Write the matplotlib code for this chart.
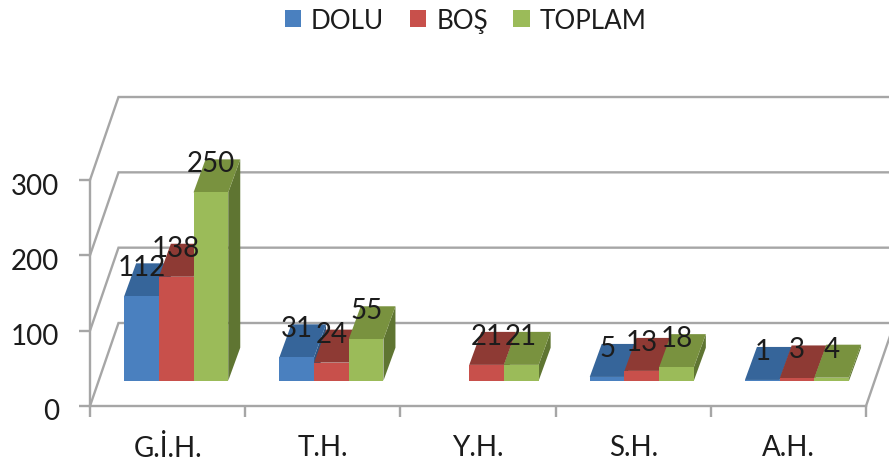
import matplotlib
matplotlib.use("Agg")
import matplotlib.pyplot as plt
from matplotlib.patches import Polygon, Patch
from matplotlib.transforms import ScaledTranslation

categories = ["G.İ.H.", "T.H.", "Y.H.", "S.H.", "A.H."]
dolu = [112, 31, None, 5, 1]
bos = [138, 24, 21, 13, 3]
toplam = [250, 55, 21, 18, 4]
series_names = ["DOLU", "BOŞ", "TOPLAM"]
y_ticks = [0, 100, 200, 300]

FRONT = ["#4a80bf", "#c8504b", "#9bbb59"]
TOP = ["#36659a", "#8e3a34", "#79923f"]
SIDE = ["#2c5480", "#76302b", "#5f7532"]
GRID = "#a6a6a6"
TXT = "#1c1c1c"
FS = 20

W, H = 889, 464
CAT_PX = 155.2      # px per category
VAL_PX = 0.7533     # px per value unit
X0, Y0 = 90, 407    # pixel of origin

fig = plt.figure(figsize=(W / 100, H / 100), dpi=100)
plt.rcParams["font.family"] = ["Lato", "DejaVu Sans"]
ax = fig.add_axes([0, 0, 1, 1])
ax.set_xlim(-X0 / CAT_PX, (W - X0) / CAT_PX)
ax.set_ylim((Y0 - H) / VAL_PX, Y0 / VAL_PX)
ax.patch.set_visible(False)

# depth of the wall and of the bars, in data units
wall_dx, wall_dy = 28.5 / CAT_PX, 83 / VAL_PX
bar_dx, bar_dy = 12 / CAT_PX, 33 / VAL_PX
base_dx, base_dy = 8.6 / CAT_PX, 25.3 / VAL_PX
bar_w = 34.7 / CAT_PX

# walls and gridlines
for v in y_ticks:
    ax.plot([0, wall_dx, 5 + wall_dx], [v, v + wall_dy, v + wall_dy],
            color=GRID, lw=1.7, zorder=1, solid_joinstyle="miter")
ax.plot([5, 5 + wall_dx], [0, wall_dy], color=GRID, lw=1.7, zorder=1)

# bars
z = 3
for i in range(len(categories)):
    for j, vals in enumerate([dolu, bos, toplam]):
        v = vals[i]
        if v is None:
            continue
        x = i + 0.5 + base_dx + (j - 1.5) * bar_w
        b = base_dy
        xr = x + bar_w
        t = b + v
        ax.add_patch(Polygon([(xr, b), (xr + bar_dx, b + bar_dy),
                              (xr + bar_dx, t + bar_dy), (xr, t)],
                             closed=True, fc=SIDE[j], ec="none", zorder=z))
        ax.add_patch(Polygon([(x, t), (xr, t), (xr + bar_dx, t + bar_dy),
                              (x + bar_dx, t + bar_dy)],
                             closed=True, fc=TOP[j], ec="none", zorder=z))
        ax.bar(x, v, width=bar_w, bottom=b, align="edge", color=FRONT[j],
               linewidth=0, zorder=z)
        z += 0.01

# value labels
for i in range(len(categories)):
    for j, vals in enumerate([dolu, bos, toplam]):
        v = vals[i]
        if v is None:
            continue
        x = i + 0.5 + base_dx + (j - 1) * bar_w
        ax.text(x, base_dy + v + 29 / VAL_PX, str(v), ha="center", va="center",
                fontsize=FS, color=TXT, zorder=10)

# axes
for s in ["top", "right"]:
    ax.spines[s].set_visible(False)
ax.spines["left"].set_position(("data", 0))
ax.spines["bottom"].set_position(("data", 0))
ax.spines["left"].set_bounds(0, 300)
ax.spines["bottom"].set_bounds(0, 5)
for s in ["left", "bottom"]:
    ax.spines[s].set_color(GRID)
    ax.spines[s].set_linewidth(1.7)
ax.set_yticks(y_ticks)
ax.set_xticks(range(6))
ax.set_xticklabels([])
ax.set_xticks([i + 0.5 for i in range(5)], minor=True)
ax.set_xticklabels(categories, minor=True)
ax.tick_params(axis="y", length=8, width=1.7, color=GRID, labelsize=FS,
               labelcolor=TXT, pad=14)
ax.tick_params(axis="x", which="major", length=8, width=1.7, color=GRID)
ax.tick_params(axis="x", which="minor", length=0, labelsize=FS,
               labelcolor=TXT, pad=20)
for lbl in ax.get_yticklabels():
    lbl.set_transform(lbl.get_transform()
                      + ScaledTranslation(0, -3 / 100, fig.dpi_scale_trans))

handles = [Patch(fc=c, ec="none", label=n) for c, n in zip(FRONT, series_names)]
ax.legend(handles=handles, loc="upper left", bbox_to_anchor=(282 / W, 1 - 6 / H),
          ncol=3, frameon=False, fontsize=18.7, handlelength=0.64, handleheight=0.64,
          handletextpad=0.38, columnspacing=0.98, borderpad=0.1,
          borderaxespad=0, labelcolor=TXT)

fig.savefig("out.png", dpi=100)
